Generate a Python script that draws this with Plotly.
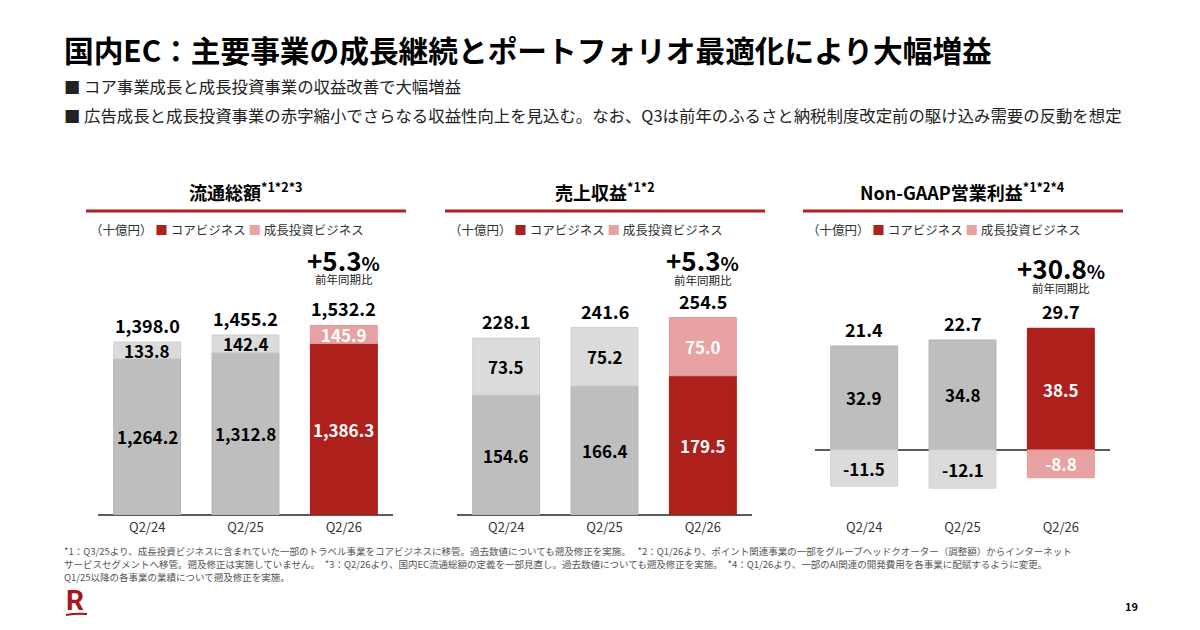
"""国内EC slide: GMV / revenue / Non-GAAP OP by business"""

import plotly.graph_objects as go

# Data (十億円)
quarters = ['Q2/24', 'Q2/25', 'Q2/26']

gmv_core = [1264.2, 1312.8, 1386.3]
gmv_growth = [133.8, 142.4, 145.9]
gmv_total = [1398.0, 1455.2, 1532.2]

revenue_core = [154.6, 166.4, 179.5]
revenue_growth = [73.5, 75.2, 75.0]
revenue_total = [228.1, 241.6, 254.5]

profit_core = [32.9, 34.8, 38.5]
profit_growth = [-11.5, -12.1, -8.8]
profit_total = [21.4, 22.7, 29.7]

yoy_growth = ['+5.3', '+5.3', '+30.8']

panel_titles = ['流通総額<sup>*1*2*3</sup>',
                '売上収益<sup>*1*2</sup>',
                'Non-GAAP営業利益<sup>*1*2*4</sup>']

# Colors
RED = '#AE201B'
PINK = '#E8A2A1'
GREY = '#BEBEBE'
LIGHT_GREY = '#DBDBDB'
TITLE_RED = '#B41E22'
FONT = 'Noto Sans CJK JP'

W, H = 1200, 630


def px(x):
    """pixel x -> paper"""
    return x / W


def py(y):
    """pixel y (from top) -> paper"""
    return 1 - y / H


def note(x, y, text, size, color='black', xanchor='center', **kw):
    """Paper-referenced text annotation with explicit anchors"""
    return dict(x=px(x), y=py(y), xref='paper', yref='paper', text=text,
                xanchor=xanchor, yanchor='middle', showarrow=False,
                font=dict(size=size, color=color, family=kw.get('family', FONT)))


# Panel geometry: pixel x extent of plot area, y range
panels = [
    dict(data=(gmv_core, gmv_growth, gmv_total), x0=98, x1=393, yrange=[0, 2546],
         pct_shift=(66, 46)),
    dict(data=(revenue_core, revenue_growth, revenue_total), x0=457, x1=752, yrange=[0, 406],
         pct_shift=(58, 38)),
    dict(data=(profit_core, profit_growth, profit_total), x0=815, x1=1110, yrange=[-20.6, 79.1],
         pct_shift=(61, 40)),
]

y_domain = [py(515), py(200)]

fig = go.Figure()
annotations = []
shapes = []

for i, panel in enumerate(panels):
    n = '' if i == 0 else str(i + 1)
    core, growth, total = panel['data']

    # Last quarter is highlighted in red
    core_colors = [GREY, GREY, RED]
    growth_colors = [LIGHT_GREY, LIGHT_GREY, PINK]
    label_color = ['black', 'black', 'white']

    fig.add_trace(go.Bar(
        x=quarters, y=core, xaxis='x' + n, yaxis='y' + n,
        marker=dict(color=core_colors, line=dict(color=['#B2B2B2', '#B2B2B2', '#A01815'], width=1)),
        width=0.68, showlegend=False, hoverinfo='skip'))
    fig.add_trace(go.Bar(
        x=quarters, y=growth, xaxis='x' + n, yaxis='y' + n,
        marker=dict(color=growth_colors, line=dict(color=['#D0D0D0', '#D0D0D0', '#E29A99'], width=1)),
        width=0.68, showlegend=False, hoverinfo='skip'))

    fig.layout['xaxis' + n] = dict(
        domain=[px(panel['x0']), px(panel['x1'])], anchor='y' + n,
        range=[-0.5, 2.5], showgrid=False, showline=False, ticks='',
        ticklabelstandoff=3,
        tickfont=dict(size=13, color='#333333', family=FONT))
    fig.layout['yaxis' + n] = dict(
        domain=y_domain, anchor='x' + n, range=panel['yrange'],
        showticklabels=False, showgrid=False,
        zeroline=True, zerolinecolor='#5A5A5A', zerolinewidth=1.5)

    for j, q in enumerate(quarters):
        # Segment labels
        g_mid = core[j] + growth[j] / 2 if growth[j] >= 0 else growth[j] / 2
        for val, mid in ((core[j], core[j] / 2), (growth[j], g_mid)):
            annotations.append(dict(
                x=q, y=mid, xref='x' + n, yref='y' + n, text=f'<b>{val:,.1f}</b>',
                xanchor='center', yanchor='middle', showarrow=False,
                font=dict(size=17, color=label_color[j], family=FONT)))

        # Total above the bar
        top = core[j] + max(growth[j], 0)
        annotations.append(dict(
            x=q, y=top, xref='x' + n, yref='y' + n, text=f'<b>{total[j]:,.1f}</b>',
            xanchor='center', yanchor='bottom', yshift=2, showarrow=False,
            font=dict(size=18, color='black', family=FONT)))

    # YoY growth above last bar
    top = core[2] + max(growth[2], 0)
    annotations.append(dict(
        x=quarters[2], y=top, xref='x' + n, yref='y' + n,
        text=f"<b>{yoy_growth[i]}<span style='font-size:19px'>%</span></b>",
        xanchor='center', yanchor='middle', showarrow=False, yshift=panel['pct_shift'][0],
        font=dict(size=26, color='black', family=FONT)))
    annotations.append(dict(
        x=quarters[2], y=top, xref='x' + n, yref='y' + n, text='前年同期比',
        xanchor='center', yanchor='middle', showarrow=False, yshift=panel['pct_shift'][1],
        font=dict(size=11.5, color='#222222', family=FONT)))

    # Panel title, red rule and legend
    cx = (panel['x0'] + panel['x1']) / 2
    annotations.append(note(cx, 191, f'<b>{panel_titles[i]}</b>', 18))
    shapes.append(dict(type='line', xref='paper', yref='paper',
                       x0=px(panel['x0'] - 12), x1=px(panel['x1'] + 13), y0=py(211), y1=py(211),
                       line=dict(color=TITLE_RED, width=3)))
    annotations.append(note(
        panel['x0'] - 10, 229,
        f"（十億円） <span style='color:{RED}'>■</span> コアビジネス "
        f"<span style='color:{PINK}'>■</span> 成長投資ビジネス",
        12.5, '#333333', xanchor='left'))

# Slide header
annotations.append(note(62, 50, '<b>国内EC：主要事業の成長継続とポートフォリオ最適化により大幅増益</b>',
                        29.7, xanchor='left'))
bullets = ['■ コア事業成長と成長投資事業の収益改善で大幅増益',
           '■ 広告成長と成長投資事業の赤字縮小でさらなる収益性向上を見込む。なお、Q3は前年のふるさと納税制度改定前の駆け込み需要の反動を想定']
for k, b in enumerate(bullets):
    annotations.append(note(62, 86 + 29 * k, b, 16.4, '#222222', xanchor='left'))

# Footnotes
footnotes = [
    '*1：Q3/25より、成長投資ビジネスに含まれていた一部のトラベル事業をコアビジネスに移管。過去数値についても遡及修正を実施。　 '
    '*2：Q1/26より、ポイント関連事業の一部をグループヘッドクオーター（調整額）からインターネット',
    'サービスセグメントへ移管。遡及修正は実施していません。　*3：Q2/26より、国内EC流通総額の定義を一部見直し。'
    '過去数値についても遡及修正を実施。　*4：Q1/26より、一部のAI関連の開発費用を各事業に配賦するように変更。',
    'Q1/25以降の各事業の業績について遡及修正を実施。',
]
for k, f in enumerate(footnotes):
    annotations.append(note(62, 551 + 13 * k, f, 9.5, '#555555', xanchor='left'))

# Logo and page number
annotations.append(note(75, 600, '<b>R</b>', 28, '#A8151B', family='Roboto'))
shapes.append(dict(type='path', xref='paper', yref='paper',
                   path=f'M {px(66)},{py(615)} Q {px(76)},{py(613)} {px(87)},{py(614)}',
                   line=dict(color='#A8151B', width=2)))
annotations.append(note(1131, 606, '<b>19</b>', 11))

fig.update_layout(
    width=W, height=H,
    margin=dict(l=0, r=0, t=0, b=0),
    barmode='relative',
    plot_bgcolor='white',
    paper_bgcolor='white',
    font=dict(family=FONT),
    annotations=annotations,
    shapes=shapes,
)

# Drop the browser's default body margin so the slide sits at the page origin
fig.write_html('out.html', config={'displayModeBar': False},
               post_script="document.body.style.margin='0px';")
